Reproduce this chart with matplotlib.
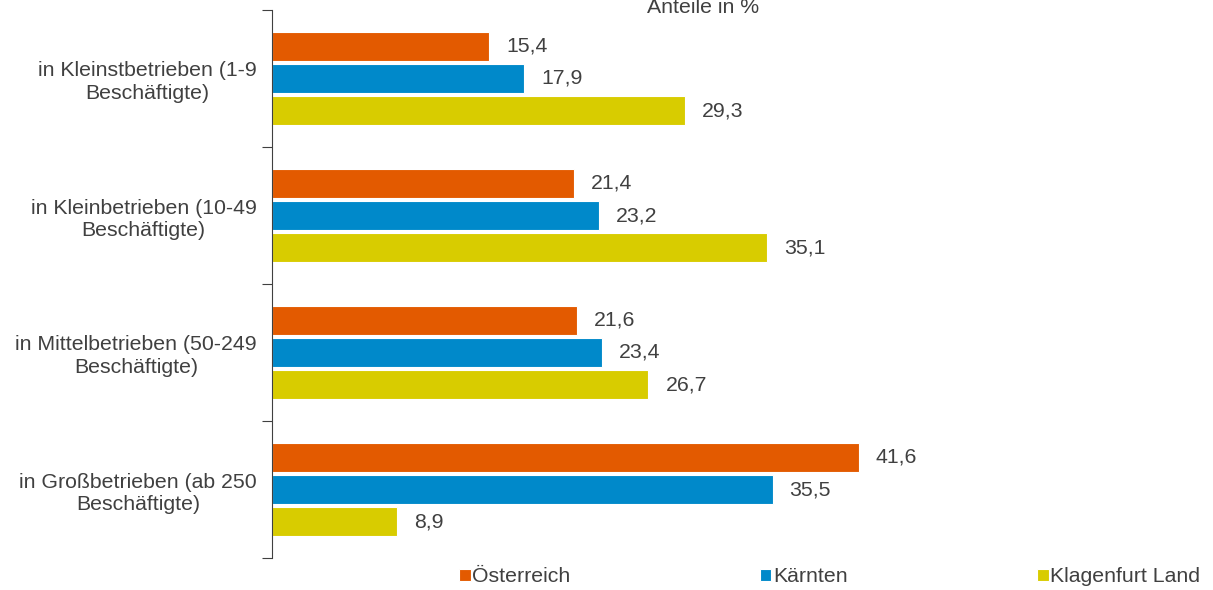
import numpy as np
import matplotlib
matplotlib.use("Agg")
from matplotlib import pyplot as plt

plt.rcParams['font.family'] = ['Liberation Sans', 'DejaVu Sans']

# data
categories = ["in Kleinstbetrieben (1-9\nBeschäftigte)",
              "in Kleinbetrieben (10-49\nBeschäftigte)",
              "in Mittelbetrieben (50-249\nBeschäftigte)",
              "in Großbetrieben (ab 250\nBeschäftigte)"]
series_names = ["Österreich", "Kärnten", "Klagenfurt Land"]
oesterreich = [15.4, 21.4, 21.6, 41.6]
kaernten = [17.9, 23.2, 23.4, 35.5]
klagenfurt_land = [29.3, 35.1, 26.7, 8.9]
colors = ["#E35A00", "#0089CA", "#D8CC00"]
txt_col = "#404040"
fs = 15.3

W, H = 1213, 590
fig = plt.figure(figsize=(W / 100, H / 100), dpi=100)
ax = fig.add_axes([272 / W, 1 - 558 / H, 920 / W, 548 / H])

y = np.arange(len(categories))
bh = 0.215
step = 0.2336
for i, (vals, name) in enumerate(zip([oesterreich, kaernten, klagenfurt_land], series_names)):
    pos = y + (i - 1) * step
    ax.barh(pos, vals, height=bh, color=colors[i], edgecolor="white", linewidth=0.8, label=name)
    for p, v in zip(pos, vals):
        ax.text(v + 1.2, p, f"{v:.1f}".replace(".", ","), va="center", ha="left",
                fontsize=fs, color=txt_col)

ax.set_xlim(0, 920 / 14.1)
ax.set_ylim(len(categories) - 0.5, -0.5)
ax.set_xticks([])
ax.set_yticks(y)
ax.set_yticklabels(categories, multialignment="center", fontsize=fs, color=txt_col,
                   linespacing=1.25)
ax.tick_params(axis="y", which="major", length=0, pad=11)
ax.set_yticks(np.arange(len(categories) + 1) - 0.5, minor=True)
ax.tick_params(axis="y", which="minor", length=7, color="#404040", width=0.8)
for s in ["top", "right", "bottom"]:
    ax.spines[s].set_visible(False)
ax.spines["left"].set_color("#404040")
ax.spines["left"].set_linewidth(0.8)

fig.text(703 / W, 1 + 2 / H, "Anteile in %", ha="center", va="top", fontsize=fs, color=txt_col)

fig.legend(loc="center left", bbox_to_anchor=(459 / W, 1 - 577 / H), ncol=3, frameon=False,
           fontsize=fs, handlelength=0.55, handleheight=0.55, handletextpad=0.08,
           columnspacing=8.9, labelcolor=txt_col, borderpad=0, borderaxespad=0)

fig.savefig("out.png", dpi=100)
